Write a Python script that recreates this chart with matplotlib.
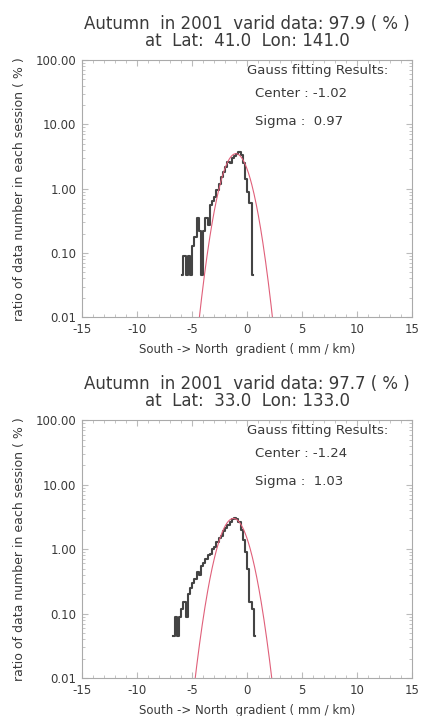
import numpy as np
import matplotlib
matplotlib.use("Agg")
import matplotlib.pyplot as plt
from matplotlib.ticker import FixedLocator, MultipleLocator, NullFormatter

plt.rcParams['font.family'] = ['DejaVu Sans']
plt.rcParams['axes.unicode_minus'] = False

# panel 1 : Lat 41.0 Lon 141.0
x1 = [-5.9, -5.7, -5.5, -5.3, -5.1, -4.9, -4.7, -4.5, -4.3, -4.1, -3.9, -3.7, -3.5,
      -3.3, -3.1, -2.9, -2.7, -2.5, -2.3, -2.1, -1.9, -1.7, -1.5, -1.3, -1.1, -0.9,
      -0.7, -0.5, -0.3, -0.1, 0.1, 0.3, 0.5]
y1 = [0.045, 0.09, 0.045, 0.09, 0.045, 0.13, 0.18, 0.35, 0.22, 0.045, 0.22, 0.35, 0.27,
      0.55, 0.65, 0.75, 0.95, 1.2, 1.5, 1.8, 2.2, 2.6, 2.5, 3.0, 3.2, 3.5,
      3.7, 3.4, 2.5, 1.4, 0.9, 0.6, 0.045]

# panel 2 : Lat 33.0 Lon 133.0
x2 = [-6.7, -6.5, -6.3, -6.1, -5.9, -5.7, -5.5, -5.3, -5.1, -4.9, -4.7, -4.5, -4.3,
      -4.1, -3.9, -3.7, -3.5, -3.3, -3.1, -2.9, -2.7, -2.5, -2.3, -2.1, -1.9, -1.7,
      -1.5, -1.3, -1.1, -0.9, -0.7, -0.5, -0.3, -0.1, 0.1, 0.3, 0.5, 0.7]
y2 = [0.045, 0.09, 0.045, 0.09, 0.12, 0.15, 0.09, 0.2, 0.25, 0.3, 0.35, 0.45, 0.4,
      0.55, 0.6, 0.7, 0.8, 0.85, 1.0, 1.1, 1.3, 1.5, 1.6, 1.9, 2.1, 2.4,
      2.6, 2.9, 3.0, 2.9, 2.6, 2.0, 1.4, 0.9, 0.5, 0.15, 0.12, 0.045]

# gauss fit results (center, sigma as printed, peak)
centers = [-1.02, -1.24]
sigmas = [0.97, 1.03]
peaks = [3.5, 3.0]
valid = [97.9, 97.7]
lats = [41.0, 33.0]
lons = [141.0, 133.0]

yticks = [0.01, 0.1, 1, 10, 100]
ylabels = ['0.01', '0.10', '1.00', '10.00', '100.00']
xticks = [-15, -10, -5, 0, 5, 10, 15]

fig = plt.figure(figsize=(4.21, 7.16), dpi=100)
tc = '#3a3a3a'
pos = [[0.195, 0.557, 0.784, 0.359], [0.195, 0.053, 0.784, 0.360]]
data = [(x1, y1), (x2, y2)]

for k in range(2):
    ax = fig.add_axes(pos[k])
    hx, hy = data[k]
    ax.step(hx, hy, where='mid', color='#444444', lw=1.5)
    xx = np.linspace(-15, 15, 600)
    g = peaks[k] * np.exp(-(xx - centers[k])**2 / (2 * sigmas[k]**2))
    ax.plot(xx, g, color='#e0607a', lw=0.8)
    ax.set_yscale('log')
    ax.set_xlim(-15, 15)
    ax.set_ylim(0.01, 100)
    ax.yaxis.set_major_locator(FixedLocator(yticks))
    ax.set_yticklabels(ylabels)
    ax.yaxis.set_minor_formatter(NullFormatter())
    ax.set_xticks(xticks)
    ax.xaxis.set_minor_locator(MultipleLocator(1))
    ax.tick_params(which='both', direction='in', top=True, right=True,
                   colors='#bbbbbb', labelcolor=tc, labelsize=8.5, pad=4)
    ax.tick_params(which='major', length=4)
    ax.tick_params(which='minor', length=2)
    for s in ax.spines.values():
        s.set_color('#aaaaaa')
        s.set_linewidth(0.8)
    ax.set_title('Autumn  in 2001  varid data: %.1f ( %% )\nat  Lat:  %.1f  Lon: %.1f'
                 % (valid[k], lats[k], lons[k]), fontsize=12, color=tc,
                 linespacing=0.95, pad=10)
    ax.set_xlabel('South -> North  gradient ( mm / km)', fontsize=8.5, color=tc, labelpad=5)
    ax.set_ylabel('ratio of data number in each session ( % )', fontsize=9,
                  color=tc, labelpad=7)
    ax.text(0.5, 0.96, 'Gauss fitting Results:', transform=ax.transAxes,
            fontsize=9.5, color=tc, va='center')
    ax.text(0.525, 0.872, 'Center : %.2f' % centers[k], transform=ax.transAxes,
            fontsize=9.5, color=tc, va='center')
    ax.text(0.525, 0.763, 'Sigma :  %.2f' % sigmas[k], transform=ax.transAxes,
            fontsize=9.5, color=tc, va='center')

fig.savefig('out.png', dpi=100)
